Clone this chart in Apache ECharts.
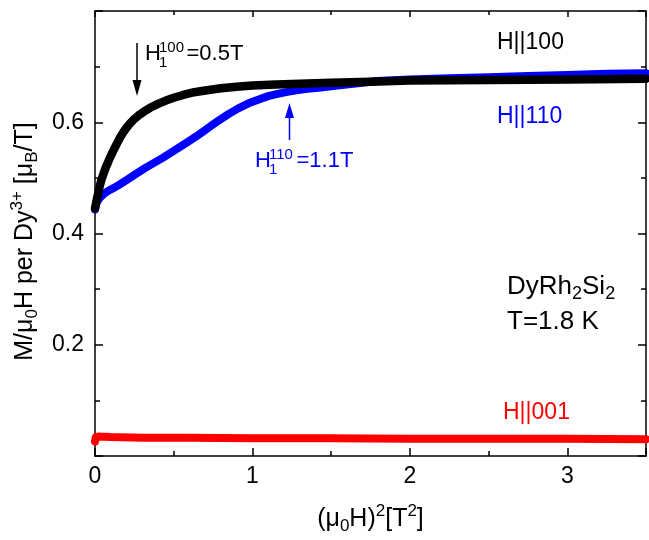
<!DOCTYPE html>
<html>
<head>
<meta charset="utf-8">
<script src="https://cdn.jsdelivr.net/npm/echarts@6/dist/echarts.min.js"></script>
<style>
html,body{margin:0;padding:0;background:#fff;}
#chart{width:649px;height:540px;}
</style>
</head>
<body>
<div id="chart"></div>
<script>
// ---- data ----
const x100 = [0, 0.01, 0.02, 0.03, 0.04, 0.05, 0.06, 0.07, 0.08, 0.09, 0.10, 0.12, 0.14, 0.16, 0.18, 0.20, 0.22, 0.25, 0.28, 0.31, 0.35, 0.40, 0.45, 0.50, 0.56, 0.63, 0.70, 0.80, 0.90, 1.00, 1.15, 1.30, 1.50, 1.75, 2.00, 2.50, 3.00, 3.50];
const y100 = [0.445, 0.459, 0.472, 0.485, 0.496, 0.504, 0.512, 0.520, 0.526, 0.533, 0.539, 0.551, 0.562, 0.573, 0.582, 0.590, 0.597, 0.606, 0.613, 0.619, 0.626, 0.633, 0.639, 0.644, 0.649, 0.654, 0.657, 0.661, 0.664, 0.666, 0.668, 0.669, 0.671, 0.673, 0.675, 0.676, 0.677, 0.678];

const x110 = [0, 0.005, 0.01, 0.02, 0.03, 0.04, 0.06, 0.08, 0.10, 0.12, 0.15, 0.20, 0.27, 0.32, 0.375, 0.43, 0.48, 0.53, 0.585, 0.64, 0.69, 0.74, 0.79, 0.85, 0.91, 0.975, 1.04, 1.10, 1.16, 1.23, 1.29, 1.35, 1.42, 1.54, 1.67, 1.79, 2.00, 2.25, 2.50, 2.75, 3.00, 3.25, 3.50];
const y110 = [0.443, 0.450, 0.455, 0.460, 0.464, 0.467, 0.472, 0.476, 0.479, 0.482, 0.487, 0.496, 0.509, 0.518, 0.527, 0.536, 0.545, 0.554, 0.564, 0.574, 0.584, 0.594, 0.604, 0.615, 0.625, 0.634, 0.641, 0.647, 0.651, 0.655, 0.658, 0.660, 0.662, 0.666, 0.670, 0.674, 0.677, 0.679, 0.681, 0.683, 0.685, 0.687, 0.688];

const x001 = [0, 0.005, 0.02, 0.10, 0.30, 0.60, 1.00, 1.50, 2.00, 2.50, 3.00, 3.50];
const y001 = [0.026, 0.034, 0.035, 0.034, 0.033, 0.033, 0.032, 0.032, 0.031, 0.031, 0.031, 0.030];

const xTickLabels = ['0', '1', '2', '3'];
const yTickLabels = ['0.2', '0.4', '0.6'];

const seriesNames = ['H||001', 'H||110', 'H||100'];
const seriesColors = ['#ff0000', '#0000ff', '#000000'];

function pairs(xs, ys) { return xs.map((v, i) => [v, ys[i]]); }

const FONT = 'Liberation Sans, Arial, sans-serif';
const axisLineStyle = { color: '#000', width: 1.5 };

function xAx(pos, major, showLabel, withName) {
  const a = {
    type: 'value', gridIndex: 0, position: pos, min: 0, max: 3.5,
    interval: major ? 1 : 0.5,
    axisLine: { show: major, onZero: false, lineStyle: axisLineStyle },
    axisTick: { show: true, inside: true, length: major ? (pos === 'bottom' ? 8 : 6) : (pos === 'bottom' ? 5 : 4), lineStyle: { color: '#000', width: 1.5 } },
    splitLine: { show: false },
    axisLabel: {
      show: showLabel, color: '#000', fontFamily: FONT, fontSize: 23, margin: 9,
      formatter: function (v) { return xTickLabels.indexOf(String(v)) >= 0 ? String(v) : ''; }
    }
  };
  if (withName) {
    a.name = '(μ{sub|0}H){sup|2}[T{sup|2}]';
    a.nameLocation = 'middle';
    a.nameGap = 63;
    a.nameTextStyle = {
      color: '#000', fontFamily: FONT, fontSize: 25, lineHeight: 32, verticalAlign: 'middle',
      rich: {
        sub: { fontFamily: FONT, fontSize: 17, lineHeight: 17, verticalAlign: 'bottom', color: '#000' },
        sup: { fontFamily: FONT, fontSize: 17, lineHeight: 17, verticalAlign: 'top', color: '#000' }
      }
    };
  }
  return a;
}

function yAx(pos, showLabel, withName) {
  const a = {
    type: 'value', gridIndex: 0, position: pos, min: 0, max: 0.8, interval: 0.2,
    axisLine: { show: true, onZero: false, lineStyle: axisLineStyle },
    axisTick: { show: true, inside: true, length: 8, lineStyle: { color: '#000', width: 1.5 } },
    minorTick: { show: true, splitNumber: 2, length: 5, lineStyle: { color: '#000', width: 1.5 } },
    splitLine: { show: false },
    minorSplitLine: { show: false },
    axisLabel: {
      show: showLabel, color: '#000', fontFamily: FONT, fontSize: 23, margin: 11,
      formatter: function (v) {
        const s = (Math.round(v * 10) / 10).toFixed(1);
        return yTickLabels.indexOf(s) >= 0 ? s : '';
      }
    }
  };
  if (withName) {
    a.name = 'M/μ{sub|0}H per Dy{sup|3+} [μ{sub|B}/T]';
    a.nameLocation = 'middle';
    a.nameGap = 45;
    a.nameRotate = 90;
    a.nameTextStyle = {
      color: '#000', fontFamily: FONT, fontSize: 25, lineHeight: 32, verticalAlign: 'middle',
      padding: [0, 16, 0, 0],
      rich: {
        sub: { fontFamily: FONT, fontSize: 17, lineHeight: 17, verticalAlign: 'bottom', color: '#000' },
        sup: { fontFamily: FONT, fontSize: 17, lineHeight: 17, verticalAlign: 'top', color: '#000' }
      }
    };
  }
  return a;
}

const chart = echarts.init(document.getElementById('chart'), null, { renderer: 'canvas' });

const dataSets = [pairs(x001, y001), pairs(x110, y110), pairs(x100, y100)];
const widths = [8, 8, 8.5];

const txt = (t, x, y, size, color, align) => ({
  type: 'text', z: 100,
  style: { text: t, x: x, y: y, fontFamily: FONT, fontSize: size, fill: color, textAlign: align || 'left', textVerticalAlign: 'middle' }
});

const option = {
  animation: false,
  backgroundColor: '#fff',
  grid: { left: 95, right: 1, top: 11, bottom: 82, containLabel: false },
  xAxis: [
    xAx('bottom', true, true, true),
    xAx('bottom', false, false, false),
    xAx('top', true, false, false),
    xAx('top', false, false, false)
  ],
  yAxis: [
    yAx('left', true, true),
    yAx('right', false, false)
  ],
  series: seriesNames.map((n, i) => ({
    name: n, type: 'line', xAxisIndex: 0, yAxisIndex: 0,
    data: dataSets[i], showSymbol: false, symbol: 'none',
    smooth: false,
    lineStyle: { color: seriesColors[i], width: widths[i], cap: 'round', join: 'round' },
    z: 2 + i
  })),
  graphic: [
    txt('H||100', 497, 43, 23, '#000'),
    txt('H||110', 497, 117, 23, '#0000ff'),
    txt('H||001', 503, 413, 23, '#ff0000'),
    {
      type: 'text', z: 100,
      style: {
        text: 'DyRh{sub|2}Si{sub|2}', x: 507, y: 287, textVerticalAlign: 'middle',
        fontFamily: FONT, fontSize: 26, fill: '#000', lineHeight: 32,
        rich: { sub: { fontFamily: FONT, fontSize: 18, lineHeight: 18, verticalAlign: 'bottom', fill: '#000' } }
      }
    },
    txt('T=1.8 K', 507, 322, 26, '#000'),
    // H1^100 annotation
    txt('H', 145, 54, 22, '#000'),
    txt('100', 159, 47.5, 15, '#000'),
    txt('1', 159, 63, 15, '#000'),
    txt('=0.5T', 186.5, 54, 22, '#000'),
    { type: 'line', z: 100, shape: { x1: 137, y1: 43, x2: 137, y2: 84 }, style: { stroke: '#000', lineWidth: 1.5 } },
    { type: 'polygon', z: 100, shape: { points: [[132.5, 80], [141.5, 80], [137, 96]] }, style: { fill: '#000' } },
    // H1^110 annotation
    txt('H', 255, 161, 22, '#0000ff'),
    txt('110', 269, 155, 15, '#0000ff'),
    txt('1', 269, 170, 15, '#0000ff'),
    txt('=1.1T', 296.5, 161, 22, '#0000ff'),
    { type: 'line', z: 100, shape: { x1: 289.5, y1: 140, x2: 289.5, y2: 115 }, style: { stroke: '#0000ff', lineWidth: 1.5 } },
    { type: 'polygon', z: 100, shape: { points: [[285, 118], [294, 118], [289.5, 103]] }, style: { fill: '#0000ff' } }
  ]
};

chart.setOption(option);
</script>
</body>
</html>
